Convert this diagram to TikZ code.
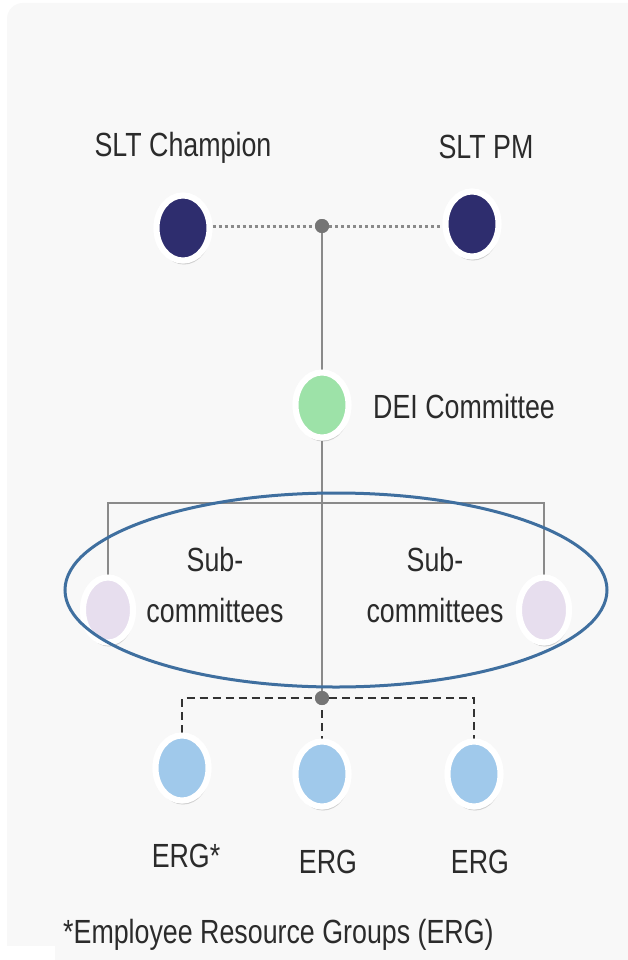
\documentclass[tikz,border=0pt]{standalone}
\usepackage{fontspec}
\setmainfont{Liberation Sans}[FakeStretch=0.8]
\usetikzlibrary{shapes.geometric,shadows}
\definecolor{bgc}{HTML}{F8F8F8}
\definecolor{navy}{HTML}{2E2D6E}
\definecolor{deigreen}{HTML}{9DE2A8}
\definecolor{lav}{HTML}{E7DEEE}
\definecolor{ergblue}{HTML}{A0C9EB}
\definecolor{ringblue}{HTML}{3F6F9F}
\definecolor{linegray}{HTML}{8A8A8A}
\definecolor{txt}{HTML}{2B2B2B}
\tikzset{
  dotnode/.style={ellipse, draw=white, line width=6pt, minimum width=53pt, minimum height=65pt, inner sep=0pt,
    drop shadow={opacity=0.18, shadow xshift=1pt, shadow yshift=-4pt}},
  junction/.style={circle, fill=linegray!85!black, minimum size=14pt, inner sep=0pt},
  lbl/.style={text=txt, font=\fontsize{33.5}{40}\selectfont, inner sep=0pt},
  solidline/.style={draw=linegray, line width=1.6pt},
  dotline/.style={draw=linegray, line width=3pt, dash pattern=on 3pt off 3pt},
  dashline/.style={draw=black!80, line width=2pt, dash pattern=on 8pt off 5pt},
}
\begin{document}
\begin{tikzpicture}[x=1pt,y=-1pt]
\useasboundingbox (0,0) rectangle (628,960);
\fill[white] (0,0) rectangle (628,960);
\fill[bgc, rounded corners=16pt] (7,3) rectangle (660,990);
\fill[white] (0,946) rectangle (55,960);

% junctions and coordinates
\node[junction] (j1) at (322,226) {};
\node[junction] (j2) at (322,698) {};
\coordinate (bar) at (322,503);

% nodes
\node[dotnode, fill=navy] (champ) at (183,228) {};
\node[dotnode, fill=navy] (pm) at (472,224) {};
\node[dotnode, fill=deigreen] (dei) at (322,405) {};
\node[dotnode, fill=lav, minimum width=50pt] (sub1) at (108,610) {};
\node[dotnode, fill=lav, minimum width=50pt] (sub2) at (544,610) {};
\node[dotnode, fill=ergblue] (erg1) at (182,768) {};
\node[dotnode, fill=ergblue] (erg2) at (322,774) {};
\node[dotnode, fill=ergblue] (erg3) at (474,774) {};

% connectors
\draw[dotline] (j1 -| champ.east) -- (j1.west);
\draw[dotline] (j1.east) -- (j1 -| pm.west);
\draw[solidline] (j1) -- (dei.north);
\draw[solidline] (dei.south) -- (j2);
\draw[solidline] (sub1.north) -- (sub1.north |- bar) -- (sub2.north |- bar) -- (sub2.north);
\draw[dashline] (erg1.north) -- (erg1.north |- j2) -- (j2.west);
\draw[dashline] (j2.east) -- (erg3.north |- j2) -- (erg3.north);
\draw[dashline] ([yshift=-5pt]j2.south) -- (erg2.north);

% redraw nodes above lines
\node[dotnode, fill=navy] at (champ) {};
\node[dotnode, fill=navy] at (pm) {};
\node[dotnode, fill=deigreen] at (dei) {};
\node[dotnode, fill=lav, minimum width=50pt] at (sub1) {};
\node[dotnode, fill=lav, minimum width=50pt] at (sub2) {};
\node[dotnode, fill=ergblue] at (erg1) {};
\node[dotnode, fill=ergblue] at (erg2) {};
\node[dotnode, fill=ergblue] at (erg3) {};
\node[junction] at (j1) {};
\node[junction] at (j2) {};

% labels
\node[lbl, anchor=base] (lchamp) at (183,157) {SLT Champion};
\node[lbl, anchor=base] (lpm) at (486,159) {SLT PM};
\node[lbl, anchor=base west] (ldei) at (373,418) {DEI Committee};
\node[lbl, anchor=base] (ls1a) at (215,571) {Sub-};
\node[lbl, anchor=base] (ls1b) at (215,622) {committees};
\node[lbl, anchor=base] (ls2a) at (435,571) {Sub-};
\node[lbl, anchor=base] (ls2b) at (435,622) {committees};
\node[lbl, anchor=base] (le1) at (186,867) {ERG*};
\node[lbl, anchor=base] (le2) at (328,873) {ERG};
\node[lbl, anchor=base] (le3) at (480,873) {ERG};
\node[lbl, anchor=base west] (foot) at (63,943) {*Employee Resource Groups (ERG)};

% highlight ring
\draw[ringblue, line width=3pt] (336,590) ellipse [x radius=271, y radius=97];
\end{tikzpicture}
\end{document}
